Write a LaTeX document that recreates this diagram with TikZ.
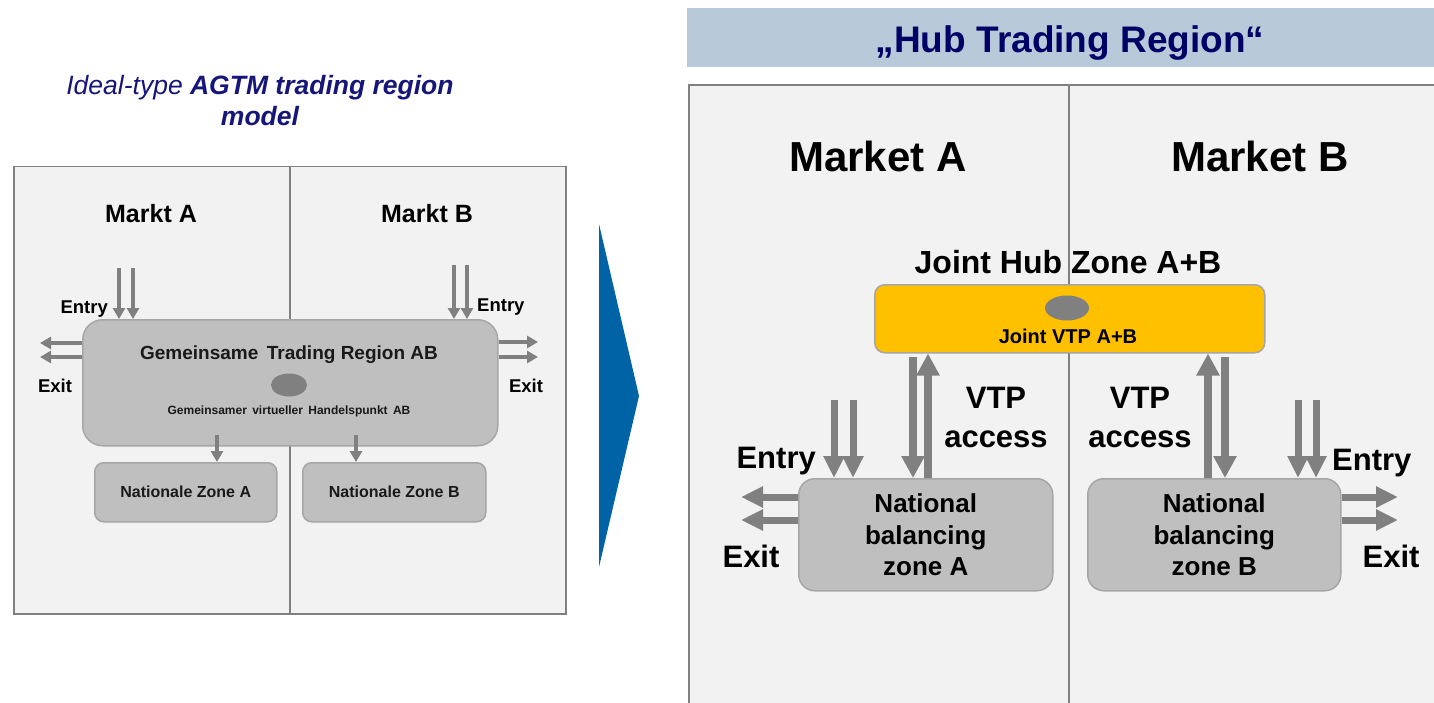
\documentclass[tikz,border=0pt]{standalone}
\usepackage{fontspec}
\setmainfont{Liberation Sans}
\usetikzlibrary{arrows.meta,shapes.geometric,calc}
\definecolor{panelbg}{HTML}{F2F2F2}
\definecolor{panelline}{HTML}{808080}
\definecolor{boxgray}{HTML}{BFBFBF}
\definecolor{boxline}{HTML}{A6A6A6}
\definecolor{arrowgray}{HTML}{808080}
\definecolor{hubyellow}{HTML}{FFC000}
\definecolor{headbar}{HTML}{B8C9D9}
\definecolor{navy}{HTML}{000066}
\definecolor{titlenavy}{HTML}{16167A}
\definecolor{chevron}{HTML}{0063A6}
\begin{document}
\begin{tikzpicture}[x=1pt,y=-1pt,
  panel/.style={draw=panelline, fill=panelbg, line width=1.5pt, inner sep=0pt, anchor=north west},
  graybox/.style={draw=boxline, fill=boxgray, line width=1.5pt, inner sep=0pt, anchor=north west},
  sarrow/.style={draw=arrowgray, line width=3.5pt, -{Triangle[width=12pt,length=11pt]}},
  barrow/.style={draw=arrowgray, line width=7.5pt, -{Triangle[width=22pt,length=22pt]}},
  earrow/.style={draw=arrowgray, line width=7pt, -{Triangle[width=20pt,length=22pt]}},
  txt/.style={inner sep=0pt, anchor=base},
  divider/.style={draw=panelline, line width=2pt},
]
\useasboundingbox (0,0) rectangle (1434,703);
\clip (0,0) rectangle (1434,703);
\fill[white] (0,0) rectangle (1434,703);

% ---------------- left title
\node[txt, text=titlenavy, font=\fontsize{26.5}{31}\selectfont\itshape] (lt1) at (260,95)
  {Ideal-type \textbf{AGTM trading region}};
\node[txt, text=titlenavy, font=\fontsize{26.5}{31}\selectfont\itshape\bfseries] (lt2) at (260,126) {model};

% ---------------- left panel
\node[panel, minimum width=552pt, minimum height=447pt] (lp) at (13,166) {};
\draw[divider] (lp.north) -- (lp.south);
\node[txt, font=\fontsize{25}{30}\selectfont\bfseries] (mkA) at (151,223) {Markt A};
\node[txt, font=\fontsize{25}{30}\selectfont\bfseries] (mkB) at (427,223) {Markt B};

\node[graybox, rounded corners=20pt, minimum width=415pt, minimum height=126pt] (gtr) at (82,319) {};
\node[txt, font=\fontsize{19}{22}\selectfont\bfseries, text=black!90] (gtrt) at (289,359) {Gemeinsame\, Trading Region AB};
\node[ellipse, fill=arrowgray, inner sep=0pt, minimum width=36pt, minimum height=23pt] (vhp) at (289,385) {};
\node[txt, font=\fontsize{12}{14}\selectfont\bfseries, text=black!90] (vhpt) at (289,414) {Gemeinsamer\, virtueller\, Handelspunkt\, AB};

\node[graybox, rounded corners=9pt, minimum width=182pt, minimum height=59pt] (nzA) at (94,462) {};
\node[graybox, rounded corners=9pt, minimum width=183pt, minimum height=59pt] (nzB) at (302,462) {};
\node[font=\fontsize{16}{19}\selectfont\bfseries, text=black!90] at (nzA.center) {Nationale Zone A};
\node[font=\fontsize{16}{19}\selectfont\bfseries, text=black!90] at (nzB.center) {Nationale Zone B};

% entry arrows left panel
\coordinate (eLa) at (119,268);
\coordinate (eLb) at (133,268);
\coordinate (eRa) at (454,265);
\coordinate (eRb) at (467,265);
\draw[sarrow] (eLa) -- (eLa |- gtr.north);
\draw[sarrow] (eLb) -- (eLb |- gtr.north);
\draw[sarrow] (eRa) -- (eRa |- gtr.north);
\draw[sarrow] (eRb) -- (eRb |- gtr.north);
\node[txt, anchor=base east, font=\fontsize{18.5}{21}\selectfont\bfseries] (entL) at (108,313) {Entry};
\node[txt, anchor=base west, font=\fontsize{18.5}{21}\selectfont\bfseries] (entR) at (477,311) {Entry};

% exit arrows left panel
\coordinate (xLa) at (40,343);
\coordinate (xLb) at (40,357);
\coordinate (xRa) at (538,342);
\coordinate (xRb) at (538,357);
\draw[sarrow] (xLa -| gtr.west) -- (xLa);
\draw[sarrow] (xLb -| gtr.west) -- (xLb);
\draw[sarrow] (xRa -| gtr.east) -- (xRa);
\draw[sarrow] (xRb -| gtr.east) -- (xRb);
\node[txt, font=\fontsize{18.5}{21}\selectfont\bfseries] (exL) at (55,392) {Exit};
\node[txt, font=\fontsize{18.5}{21}\selectfont\bfseries] (exR) at (526,392) {Exit};

% down arrows to national zones
\coordinate (dA) at (217,435);
\coordinate (dB) at (356,435);
\draw[sarrow] (dA) -- (dA |- nzA.north);
\draw[sarrow] (dB) -- (dB |- nzB.north);

% ---------------- chevron
\fill[chevron] (599,224) -- (639,396) -- (599,567) -- cycle;

% ---------------- right header
\fill[headbar] (687,8) rectangle (1440,67);
\node[txt, text=navy, font=\fontsize{37}{44}\selectfont\bfseries] (hub) at (1070,53) {„Hub Trading Region“};

% ---------------- right panel
\node[panel, line width=2pt, minimum width=760pt, minimum height=640pt] (rp) at (688,84) {};
\coordinate (rdiv) at (1069,84);
\draw[divider] (rdiv) -- (rdiv |- rp.south);

\node[txt, font=\fontsize{42}{50}\selectfont\bfseries] (MA) at (878,172) {Market A};
\node[txt, font=\fontsize{42}{50}\selectfont\bfseries] (MB) at (1260,172) {Market B};

\node[txt, font=\fontsize{32}{38}\selectfont\bfseries] (jhz) at (1068,273) {Joint Hub Zone A+B};
\node[graybox, fill=hubyellow, rounded corners=10pt, minimum width=390pt, minimum height=68pt] (yb) at (874,284) {};
\node[ellipse, fill=arrowgray, inner sep=0pt, minimum width=44pt, minimum height=25pt] (jvtp) at (1067,308) {};
\node[txt, font=\fontsize{20}{24}\selectfont\bfseries] (jvtpt) at (1068,343) {Joint VTP A+B};

\node[graybox, rounded corners=16pt, minimum width=254pt, minimum height=112pt] (nbA) at (798,478) {};
\node[graybox, rounded corners=16pt, minimum width=253pt, minimum height=112pt] (nbB) at (1087,478) {};
\node[align=center, inner sep=0pt, font=\fontsize{26}{31.5}\selectfont\bfseries] at (nbA.center) {National\\balancing\\zone A};
\node[align=center, inner sep=0pt, font=\fontsize{26}{31.5}\selectfont\bfseries] at (nbB.center) {National\\balancing\\zone B};

% VTP access arrows
\coordinate (vAd) at (913,357);
\coordinate (vAu) at (928,478);
\coordinate (vBu) at (1208,478);
\coordinate (vBd) at (1225,357);
\draw[barrow] (vAd) -- (vAd |- nbA.north);
\draw[barrow] (vAu |- nbA.north) -- (vAu |- yb.south);
\draw[barrow] (vBu |- nbB.north) -- (vBu |- yb.south);
\draw[barrow] (vBd) -- (vBd |- nbB.north);
\node[txt, font=\fontsize{31}{37}\selectfont\bfseries] (vtpA) at (996,408) {VTP};
\node[txt, font=\fontsize{31}{37}\selectfont\bfseries] (accA) at (996,447) {access};
\node[txt, font=\fontsize{31}{37}\selectfont\bfseries] (vtpB) at (1140,408) {VTP};
\node[txt, font=\fontsize{31}{37}\selectfont\bfseries] (accB) at (1140,447) {access};

% entry arrows right panel
\coordinate (rEa) at (834,400);
\coordinate (rEb) at (853,400);
\coordinate (rEc) at (1298,400);
\coordinate (rEd) at (1316,400);
\draw[earrow] (rEa) -- (rEa |- nbA.north);
\draw[earrow] (rEb) -- (rEb |- nbA.north);
\draw[earrow] (rEc) -- (rEc |- nbB.north);
\draw[earrow] (rEd) -- (rEd |- nbB.north);
\node[txt, anchor=base east, font=\fontsize{31}{37}\selectfont\bfseries] (rentA) at (816,468) {Entry};
\node[txt, anchor=base west, font=\fontsize{31}{37}\selectfont\bfseries] (rentB) at (1332,470) {Entry};

% exit arrows right panel
\coordinate (rXa) at (741,497);
\coordinate (rXb) at (741,520);
\coordinate (rXc) at (1398,497);
\coordinate (rXd) at (1398,520);
\draw[earrow] (rXa -| nbA.west) -- (rXa);
\draw[earrow] (rXb -| nbA.west) -- (rXb);
\draw[earrow] (rXc -| nbB.east) -- (rXc);
\draw[earrow] (rXd -| nbB.east) -- (rXd);
\node[txt, font=\fontsize{31}{37}\selectfont\bfseries] (rexA) at (751,567) {Exit};
\node[txt, font=\fontsize{31}{37}\selectfont\bfseries] (rexB) at (1391,567) {Exit};
\end{tikzpicture}
\end{document}
